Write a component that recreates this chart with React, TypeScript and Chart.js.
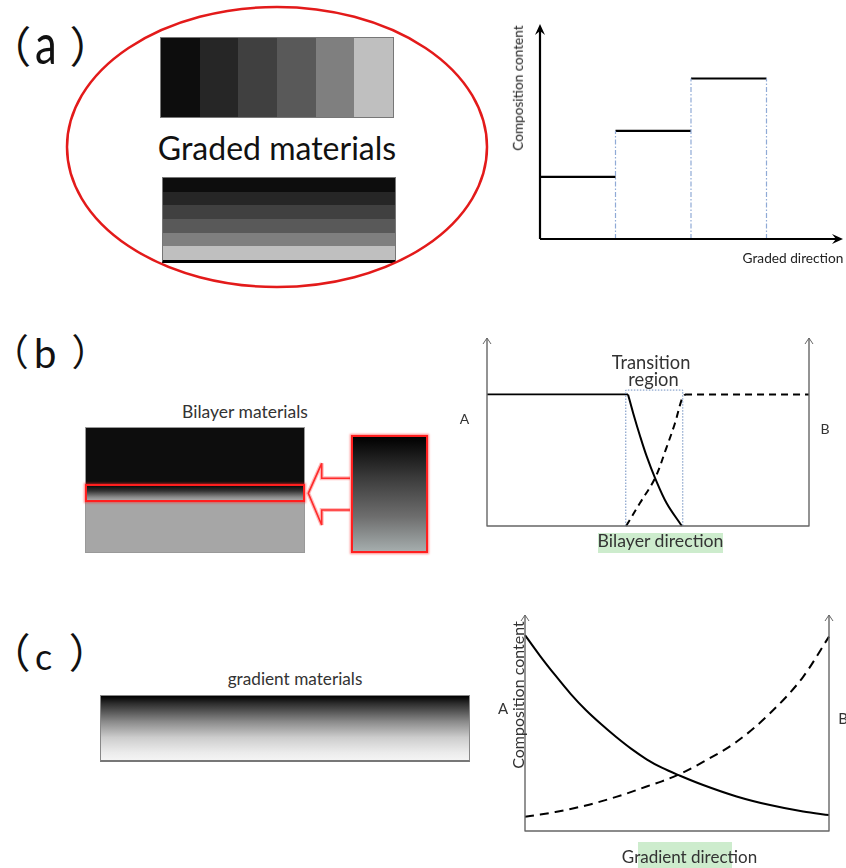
import React, { useEffect, useRef } from "react";
import { Chart, registerables } from "chart.js";
Chart.register(...registerables);

// ---------- Panel (a): graded (stepwise) composition ----------
const aBoundaries = [0, 1, 2, 3];
const aLevels = [2.9, 5.05, 7.5];
const aDividerX = [1, 2, 3];
const aDividerTop = [5.05, 7.5, 7.5];
const aXMax = 4;
const aYMax = 10;
const aStripeColors = ["#0d0d0d", "#262626", "#404040", "#595959", "#7f7f7f", "#bfbfbf"];

// ---------- Panel (b): bilayer with transition region ----------
const bLevel = 70;
const bSolidFlatX = [0, 43.8];
const bSolidCurveX = [43.8, 45.4, 47.5, 49.6, 52.2, 55.8, 60.5];
const bSolidCurveY = [70, 60, 48, 37, 25.5, 12.1, 0];
const bDashCurveX = [43.2, 47.5, 52.2, 55.8, 58.4, 60.6, 61.5];
const bDashCurveY = [0, 12.2, 25.5, 42, 54.8, 68, 70];
const bDashFlatX = [61.5, 100];
const bRegionX = [43.1, 60.8];
const bRegionTop = 72.3;

// ---------- Panel (c): continuous gradient ----------
const cX = [0, 5, 10, 15, 20, 25, 30, 35, 40, 45, 51, 58.6, 69.6, 80.6, 91.5, 100];
const cSolid = [90.7, 81.0, 72.0, 63.5, 56.0, 49.5, 43.5, 38.0, 33.2, 29.3, 25.6, 21.3, 16.0, 12.0, 9.0, 7.4];
const cDashed = [6.6, 7.6, 8.8, 10.2, 11.8, 13.7, 15.8, 18.1, 20.6, 23.0, 26.4, 32.0, 41.3, 54.5, 71.4, 90.0];

const FONT = "Lato, 'Open Sans', sans-serif";

type Pt = { x: number; y: number | null };

function zip(xs: number[], ys: number[]): Pt[] {
  return xs.map((x, i) => ({ x, y: ys[i] }));
}

function baseOptions(pad: any, xMax: number, yMax: number) {
  return {
    responsive: false,
    animation: false as const,
    layout: { padding: pad },
    events: [],
    elements: { point: { radius: 0 }, line: { borderCapStyle: "butt" } },
    scales: {
      x: { type: "linear", min: 0, max: xMax, display: false },
      y: { type: "linear", min: 0, max: yMax, display: false },
    },
    plugins: { legend: { display: false }, tooltip: { enabled: false } },
  };
}

const axisPluginA = {
  id: "axesA",
  afterDraw(chart: any) {
    const { ctx, scales } = chart;
    const x0 = scales.x.getPixelForValue(0);
    const xe = scales.x.getPixelForValue(aXMax);
    const y0 = scales.y.getPixelForValue(0);
    const yt = scales.y.getPixelForValue(aYMax);
    ctx.save();
    ctx.strokeStyle = "#000";
    ctx.fillStyle = "#000";
    ctx.lineWidth = 2.2;
    ctx.beginPath();
    ctx.moveTo(x0, y0);
    ctx.lineTo(xe - 3, y0);
    ctx.moveTo(x0, y0);
    ctx.lineTo(x0, yt + 3);
    ctx.stroke();
    ctx.beginPath();
    ctx.moveTo(xe + 1, y0);
    ctx.lineTo(xe - 10, y0 - 5);
    ctx.lineTo(xe - 6, y0);
    ctx.lineTo(xe - 10, y0 + 5);
    ctx.closePath();
    ctx.fill();
    ctx.beginPath();
    ctx.moveTo(x0, yt - 1);
    ctx.lineTo(x0 - 5, yt + 10);
    ctx.lineTo(x0, yt + 6);
    ctx.lineTo(x0 + 5, yt + 10);
    ctx.closePath();
    ctx.fill();
    ctx.restore();
  },
};

function thinAxes(id: string, xMax: number, yMax: number, color: string) {
  return {
    id,
    afterDraw(chart: any) {
      const { ctx, scales } = chart;
      const x0 = scales.x.getPixelForValue(0);
      const xe = scales.x.getPixelForValue(xMax);
      const y0 = scales.y.getPixelForValue(0);
      const yt = scales.y.getPixelForValue(yMax);
      ctx.save();
      ctx.strokeStyle = color;
      ctx.lineWidth = 1.4;
      ctx.beginPath();
      ctx.moveTo(x0 - 0.5, y0);
      ctx.lineTo(xe + 0.5, y0);
      ctx.moveTo(x0, y0);
      ctx.lineTo(x0, yt);
      ctx.moveTo(xe, y0);
      ctx.lineTo(xe, yt);
      ctx.stroke();
      ctx.lineWidth = 1;
      for (const xx of [x0, xe]) {
        ctx.beginPath();
        ctx.moveTo(xx - 4, yt + 6);
        ctx.lineTo(xx, yt);
        ctx.lineTo(xx + 4, yt + 6);
        ctx.stroke();
      }
      ctx.restore();
    },
  };
}

function configA(): any {
  const steps: Pt[] = [];
  aLevels.forEach((l, i) => {
    steps.push({ x: aBoundaries[i], y: l }, { x: aBoundaries[i + 1], y: l }, { x: aBoundaries[i + 1], y: null });
  });
  const dividers: Pt[] = [];
  aDividerX.forEach((x, i) => {
    dividers.push({ x, y: 0 }, { x, y: aDividerTop[i] }, { x, y: null });
  });
  return {
    type: "line",
    data: {
      datasets: [
        { data: dividers, borderColor: "#8faad6", borderWidth: 1.2, borderDash: [5, 2, 1.5, 2], clip: false },
        { data: steps, borderColor: "#000", borderWidth: 2.2, clip: false },
      ],
    },
    options: baseOptions({ left: 40, right: 4, top: 15, bottom: 41 }, aXMax, aYMax),
    plugins: [axisPluginA],
  };
}

function configB(): any {
  const region: Pt[] = [
    { x: bRegionX[0], y: 0 },
    { x: bRegionX[0], y: bRegionTop },
    { x: bRegionX[1], y: bRegionTop },
    { x: bRegionX[1], y: 0 },
  ];
  return {
    type: "line",
    data: {
      datasets: [
        { data: region, borderColor: "#6f8fc0", borderWidth: 1, borderDash: [1.5, 1.5], clip: false },
        { data: bSolidFlatX.map((x) => ({ x, y: bLevel })), borderColor: "#000", borderWidth: 1.8, clip: false },
        { data: zip(bSolidCurveX, bSolidCurveY), borderColor: "#000", borderWidth: 2, tension: 0.35, clip: false },
        { data: zip(bDashCurveX, bDashCurveY), borderColor: "#000", borderWidth: 2, borderDash: [7, 5], tension: 0.35, clip: false },
        { data: bDashFlatX.map((x) => ({ x, y: bLevel })), borderColor: "#000", borderWidth: 2, borderDash: [7, 5], clip: false },
      ],
    },
    options: baseOptions({ left: 37, right: 37, top: 8, bottom: 34 }, 100, 100),
    plugins: [thinAxes("axesB", 100, 100, "#666")],
  };
}

function configC(): any {
  return {
    type: "line",
    data: {
      datasets: [
        { data: zip(cX, cSolid), borderColor: "#000", borderWidth: 2, cubicInterpolationMode: "monotone", clip: false },
        { data: zip(cX, cDashed), borderColor: "#000", borderWidth: 2, borderDash: [9, 6], cubicInterpolationMode: "monotone", clip: false },
      ],
    },
    options: baseOptions({ left: 35, right: 17, top: 15, bottom: 37 }, 100, 100),
    plugins: [thinAxes("axesC", 100, 100, "#666")],
  };
}

function ChartBox(props: { left: number; top: number; width: number; height: number; make: () => any }) {
  const ref = useRef<HTMLCanvasElement>(null);
  useEffect(() => {
    const chart = new Chart(ref.current as HTMLCanvasElement, props.make());
    return () => chart.destroy();
  }, []);
  return (
    <canvas
      ref={ref}
      width={props.width}
      height={props.height}
      style={{ position: "absolute", left: props.left, top: props.top, width: props.width, height: props.height }}
    />
  );
}

function Label(props: { cx: number; cy: number; text: string; size: number; color?: string; rotate?: boolean }) {
  return (
    <div
      style={{
        position: "absolute",
        left: props.cx,
        top: props.cy,
        transform: "translate(-50%,-50%)" + (props.rotate ? " rotate(-90deg)" : ""),
        fontSize: props.size,
        lineHeight: 1.2,
        color: props.color || "#222",
        whiteSpace: "nowrap",
        fontFamily: FONT,
      }}
    >
      {props.text}
    </div>
  );
}

function PanelTag(props: { letter: string; lF: number; lTop: number; lLeft: number; sx: number; pF: number; pTop: number; rShift: number }) {
  const cjk = "'Noto Sans CJK SC', sans-serif";
  return (
    <>
      <span style={{ position: "absolute", left: 12 - 0.55 * props.pF, top: props.pTop, fontSize: props.pF, lineHeight: 1, fontFamily: cjk, color: "#111" }}>（</span>
      <span
        style={{
          position: "absolute",
          left: props.lLeft,
          top: props.lTop,
          fontSize: props.lF,
          lineHeight: 1,
          fontFamily: FONT,
          color: "#111",
          transform: `scaleX(${props.sx})`,
          transformOrigin: "left top",
        }}
      >
        {props.letter}
      </span>
      <span style={{ position: "absolute", left: 68 - 0.15 * props.pF + props.rShift, top: props.pTop, fontSize: props.pF, lineHeight: 1, fontFamily: cjk, color: "#111" }}>）</span>
    </>
  );
}

const glow = "0 0 2px 1px rgba(255,40,40,0.55)";

export default function App() {
  return (
    <div style={{ position: "absolute", left: 0, top: 0, width: 846, height: 868, overflow: "hidden", background: "#fff", fontFamily: FONT }}>
      {/* ---------- (a) ---------- */}
      <PanelTag letter="a" lF={56} lTop={15} lLeft={35} sx={0.78} pF={43} pTop={23} rShift={8} />
      <div style={{ position: "absolute", left: 160, top: 37, width: 234, height: 81, display: "flex", border: "1px solid #777", boxSizing: "border-box" }}>
        {aStripeColors.map((c, i) => (
          <div key={i} style={{ flex: 1, background: c }} />
        ))}
      </div>
      <div style={{ position: "absolute", left: 162, top: 177, width: 234, height: 86, display: "flex", flexDirection: "column", border: "1px solid #777", borderBottom: "3px solid #000", boxSizing: "border-box" }}>
        {aStripeColors.map((c, i) => (
          <div key={i} style={{ flex: 1, background: c }} />
        ))}
      </div>
      <Label cx={277} cy={148} text="Graded materials" size={32} color="#111" />
      <svg width={846} height={300} style={{ position: "absolute", left: 0, top: 0 }}>
        <ellipse cx={277} cy={147} rx={210} ry={140} fill="none" stroke="#e31a1a" strokeWidth={2.5} />
      </svg>
      <ChartBox left={500} top={10} width={346} height={270} make={configA} />
      <Label cx={518} cy={87.5} text="Composition content" size={13.6} rotate />
      <Label cx={793} cy={257.5} text="Graded direction" size={13.7} />

      {/* ---------- (b) ---------- */}
      <PanelTag letter="b" lF={40} lTop={332.5} lLeft={34} sx={1} pF={37} pTop={332} rShift={9} />
      <Label cx={245} cy={410.5} text="Bilayer materials" size={17.5} color="#333" />
      <div style={{ position: "absolute", left: 85, top: 427, width: 220, height: 126, border: "1px solid #999", boxSizing: "border-box", background: "#a6a6a6" }}>
        <div style={{ position: "absolute", left: 0, top: 0, right: 0, height: 57, background: "#0d0d0d" }} />
        <div
          style={{
            position: "absolute",
            left: -1,
            right: -1,
            top: 56,
            height: 18,
            border: "2px solid #ff1f1f",
            boxSizing: "border-box",
            boxShadow: glow,
            background: "linear-gradient(to bottom, #0d0d0d 0%, #333 35%, #8a8a8a 80%, #a6a6a6 100%)",
          }}
        />
      </div>
      <svg width={60} height={80} style={{ position: "absolute", left: 300, top: 455 }}>
        <polyline
          points="50,23.3 21.7,23.3 21.7,8.3 8.3,38.3 21.7,70 21.7,55 50,55"
          fill="none"
          stroke="rgba(255,60,60,0.35)"
          strokeWidth={4}
          strokeLinejoin="miter"
        />
        <polyline points="50,23.3 21.7,23.3 21.7,8.3 8.3,38.3 21.7,70 21.7,55 50,55" fill="none" stroke="#ff2a2a" strokeWidth={1.6} />
      </svg>
      <div
        style={{
          position: "absolute",
          left: 351,
          top: 435,
          width: 77,
          height: 118,
          boxSizing: "border-box",
          border: "2px solid #ff1f1f",
          boxShadow: glow,
          background: "linear-gradient(to bottom, #000 0%, #3a3a3a 35%, #6e6e6e 70%, #a5adad 100%)",
        }}
      />
      <ChartBox left={450} top={330} width={396} height={230} make={configB} />
      <Label cx={651} cy={362.5} text="Transition" size={18.3} color="#333" />
      <Label cx={653.5} cy={379.5} text="region" size={18.3} color="#333" />
      <Label cx={464.5} cy={418.5} text="A" size={14} color="#333" />
      <Label cx={825} cy={428.5} text="B" size={14} color="#333" />
      <div style={{ position: "absolute", left: 598, top: 533, width: 125, height: 20, background: "#cdeccd" }} />
      <Label cx={660.5} cy={541} text="Bilayer direction" size={17.7} color="#333" />

      {/* ---------- (c) ---------- */}
      <PanelTag letter="c" lF={36} lTop={638} lLeft={35} sx={1} pF={41} pTop={630} rShift={7} />
      <Label cx={295} cy={679} text="gradient materials" size={17.2} color="#333" />
      <div
        style={{
          position: "absolute",
          left: 100,
          top: 695,
          width: 370,
          height: 67,
          boxSizing: "border-box",
          border: "1px solid #888",
          borderBottom: "2px solid #777",
          background: "linear-gradient(to bottom, #000 0%, #2e2e2e 12%, #8a8a8a 40%, #cdcdcd 65%, #ebebeb 88%, #f4f4f4 100%)",
        }}
      />
      <ChartBox left={490} top={600} width={356} height={268} make={configC} />
      <Label cx={517.5} cy={695} text="Composition content" size={16} color="#333" rotate />
      <Label cx={503} cy={708} text="A" size={15} color="#333" />
      <Label cx={843} cy={718} text="B" size={15} color="#333" />
      <div style={{ position: "absolute", left: 638, top: 842, width: 94, height: 26, background: "#cdeccd" }} />
      <Label cx={689.5} cy={857} text="Gradient direction" size={17} color="#333" />
    </div>
  );
}
